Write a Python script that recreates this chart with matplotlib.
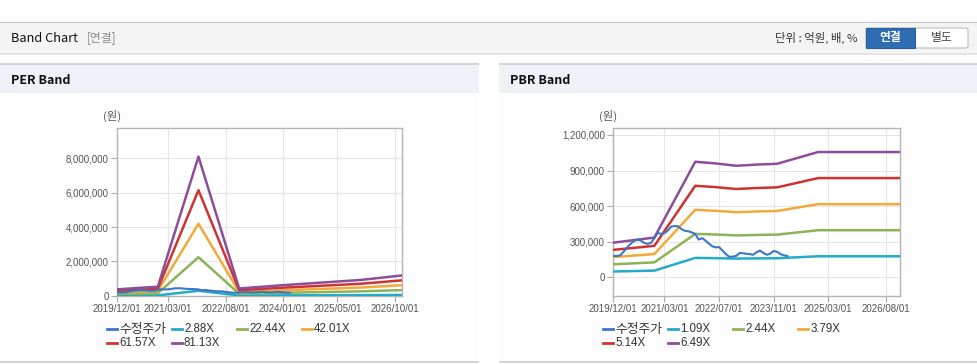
import matplotlib
matplotlib.use('Agg')
from matplotlib import pyplot as plt
from matplotlib.patches import Rectangle, FancyBboxPatch
from matplotlib.lines import Line2D
import matplotlib.ticker as mticker
import pandas as pd

#%% datos
W, H = 978, 364

band_dates_per = ['2019-12-01', '2020-12-01', '2021-12-01', '2022-12-01',
                  '2023-12-01', '2024-12-01', '2025-12-01', '2026-12-01']
per_labels = ['2.88X', '22.44X', '42.01X', '61.57X', '81.13X']
per_2_88 = [13100, 18600, 287500, 14900, 21300, 27000, 32700, 41900]
per_22_44 = [102300, 145200, 2240000, 116200, 166000, 210200, 254500, 326300]
per_42_01 = [191600, 271800, 4194000, 217500, 310900, 393600, 476400, 610800]
per_61_57 = [280800, 398400, 6147000, 318700, 455600, 576900, 698200, 895200]
per_81_13 = [370000, 525000, 8100000, 420000, 600000, 760000, 920000, 1180000]

band_dates_pbr = ['2019-12-01', '2020-12-01', '2021-12-01', '2022-06-01', '2022-12-01',
                  '2023-06-01', '2023-12-01', '2024-12-01', '2026-12-01']
pbr_labels = ['1.09X', '2.44X', '3.79X', '5.14X', '6.49X']
pbr_1_09 = [49000, 56300, 163600, 161200, 157900, 159500, 160700, 177300, 177300]
pbr_2_44 = [109800, 125900, 366200, 360900, 353300, 357200, 359900, 397000, 397000]
pbr_3_79 = [170500, 195600, 568900, 560500, 548800, 554900, 559000, 616600, 616600]
pbr_5_14 = [231300, 265200, 771500, 760200, 744300, 752500, 758200, 836300, 836300]
pbr_6_49 = [292000, 335000, 974000, 960000, 940000, 950000, 957000, 1056000, 1056000]

# 수정주가 mensual desde 2019/12 (miles de won)
precio = [180, 180, 185, 215, 250, 280, 305, 318, 310, 290, 282, 290,
          330, 375, 365, 372, 395, 428, 432, 430, 405, 392, 388, 378,
          365, 318, 330, 310, 285, 262, 252, 255, 225, 195, 172, 175,
          180, 205, 203, 198, 196, 190, 212, 225, 205, 190, 200, 222,
          215, 195, 185, 180]
precio = [p * 1000 for p in precio]
fechas_precio = pd.date_range('2019-12-01', periods=len(precio), freq='MS')

per_ticks = ['2019/12/01', '2021/03/01', '2022/08/01', '2024/01/01', '2025/05/01', '2026/10/01']
pbr_ticks = ['2019/12/01', '2021/03/01', '2022/07/01', '2023/11/01', '2025/03/01', '2026/08/01']

colores = ['#3c77c7', '#21adc8', '#8cb457', '#f3a93a', '#cf3232', '#8e4d9a']

plt.rcParams['font.family'] = ['Noto Sans CJK KR', 'DejaVu Sans']

#%% figura
fig = plt.figure(figsize=(W / 100, H / 100), dpi=100)
fig.patch.set_facecolor('white')

def caja(x, y, w, h, z=-10, **kw):
    fig.add_artist(Rectangle((x / W, 1 - (y + h) / H), w / W, h / H,
                             transform=fig.transFigure, zorder=z, **kw))

def texto(x, y, s, **kw):
    fig.text(x / W, 1 - y / H, s, va='center', **kw)

# barra superior
caja(0, 52, W, 3, facecolor='#e4e4e4', edgecolor='none')
caja(0, 22, W, 31, facecolor='#f4f4f4', edgecolor='none')
caja(0, 21.5, W, 1.5, facecolor='#c4c4c4', edgecolor='none')
texto(11, 38, 'Band Chart', fontsize=9.2, color='#111111')
texto(87, 38, '[연결]', fontsize=8.5, color='#8a8a8a')
texto(858, 38, '단위 : 억원, 배, %', fontsize=8.2, color='#333333', ha='right')
fig.add_artist(FancyBboxPatch((866 / W, 1 - 48 / H), 102 / W, 20 / H,
                              boxstyle='round,pad=0,rounding_size=0.004',
                              transform=fig.transFigure, facecolor='white',
                              edgecolor='#bbbbbb', lw=0.8, zorder=-5))
caja(866, 28, 49, 20, z=-4, facecolor='#2f6db3', edgecolor='#2a5f9e', lw=0.8)
texto(890.5, 38, '연결', fontsize=8.5, color='white', ha='center', fontweight='bold')
texto(941.5, 38, '별도', fontsize=8.5, color='#444444', ha='center')

# paneles
for x0 in [0, 499]:
    caja(x0, 93, 479, 268, facecolor='#fdfdfd', edgecolor='none')
    caja(x0, 64, 479, 29, facecolor='#eef2f7', edgecolor='none')
    caja(x0, 63, 479, 1.5, facecolor='#d4d4d4', edgecolor='none')
    caja(x0, 361, 479, 1.5, facecolor='#d4d4d4', edgecolor='none')
texto(11, 80, 'PER Band', fontsize=9, fontweight='bold', color='#111111')
texto(510, 80, 'PBR Band', fontsize=9, fontweight='bold', color='#111111')

def grafico(left, right, ylim, yticks, ticks, band_dates, bands, labels):
    top, bottom = 128.3, 295.7
    ax = fig.add_axes([left / W, 1 - bottom / H, (right - left) / W, (bottom - top) / H])
    ax.set_facecolor('white')
    x_b = pd.to_datetime(band_dates)
    ax.plot(fechas_precio, precio, color=colores[0], lw=1.5, zorder=4)
    for serie, c in zip(bands, colores[1:]):
        ax.plot(x_b, serie, color=c, lw=1.8, zorder=3)
    ax.set_xlim(pd.Timestamp('2019-12-01'), pd.Timestamp('2026-12-01'))
    ax.set_ylim(*ylim)
    ax.set_yticks(yticks)
    ax.yaxis.set_major_formatter(mticker.FuncFormatter(lambda v, p: '{:,.0f}'.format(v)))
    ax.set_xticks(pd.to_datetime(ticks))
    ax.set_xticklabels(ticks)
    ax.tick_params(labelsize=7, colors='#aaaaaa', labelcolor='#555555', length=4, width=0.8, pad=2)
    for lab in ax.get_xticklabels() + ax.get_yticklabels():
        lab.set_family(['Liberation Sans', 'DejaVu Sans'])
    ax.grid(True, color='#e6e6e6', lw=0.8, zorder=0)
    ax.set_axisbelow(True)
    for sp in ax.spines.values():
        sp.set_color('#b4b4b4')
        sp.set_linewidth(1)
    texto(left - 5, 116, '(원)', fontsize=8.2, color='#555555', ha='center')
    # leyenda
    etiquetas = ['수정주가'] + labels
    for i, (lab, c) in enumerate(zip(etiquetas, colores)):
        fila, col = divmod(i, 4)
        x0 = left - 10 + col * 65
        y0 = 329 + fila * 14
        fig.add_artist(Line2D([x0 / W, (x0 + 10) / W], [1 - y0 / H, 1 - y0 / H],
                              transform=fig.transFigure, color=c, lw=2))
        if i:
            texto(x0 + 12, y0, lab, fontsize=8.3, color='#333333',
                  family=['Liberation Sans', 'DejaVu Sans'])
        else:
            texto(x0 + 12, y0, lab, fontsize=9.2, color='#333333')
    return ax

grafico(117, 402, (0, 9.75e6), [0, 2e6, 4e6, 6e6, 8e6], per_ticks, band_dates_per,
        [per_2_88, per_22_44, per_42_01, per_61_57, per_81_13], per_labels)
grafico(613.3, 900, (-155000, 1256000), [0, 300000, 600000, 900000, 1200000], pbr_ticks,
        band_dates_pbr, [pbr_1_09, pbr_2_44, pbr_3_79, pbr_5_14, pbr_6_49], pbr_labels)

plt.savefig('out.png', dpi=100)
